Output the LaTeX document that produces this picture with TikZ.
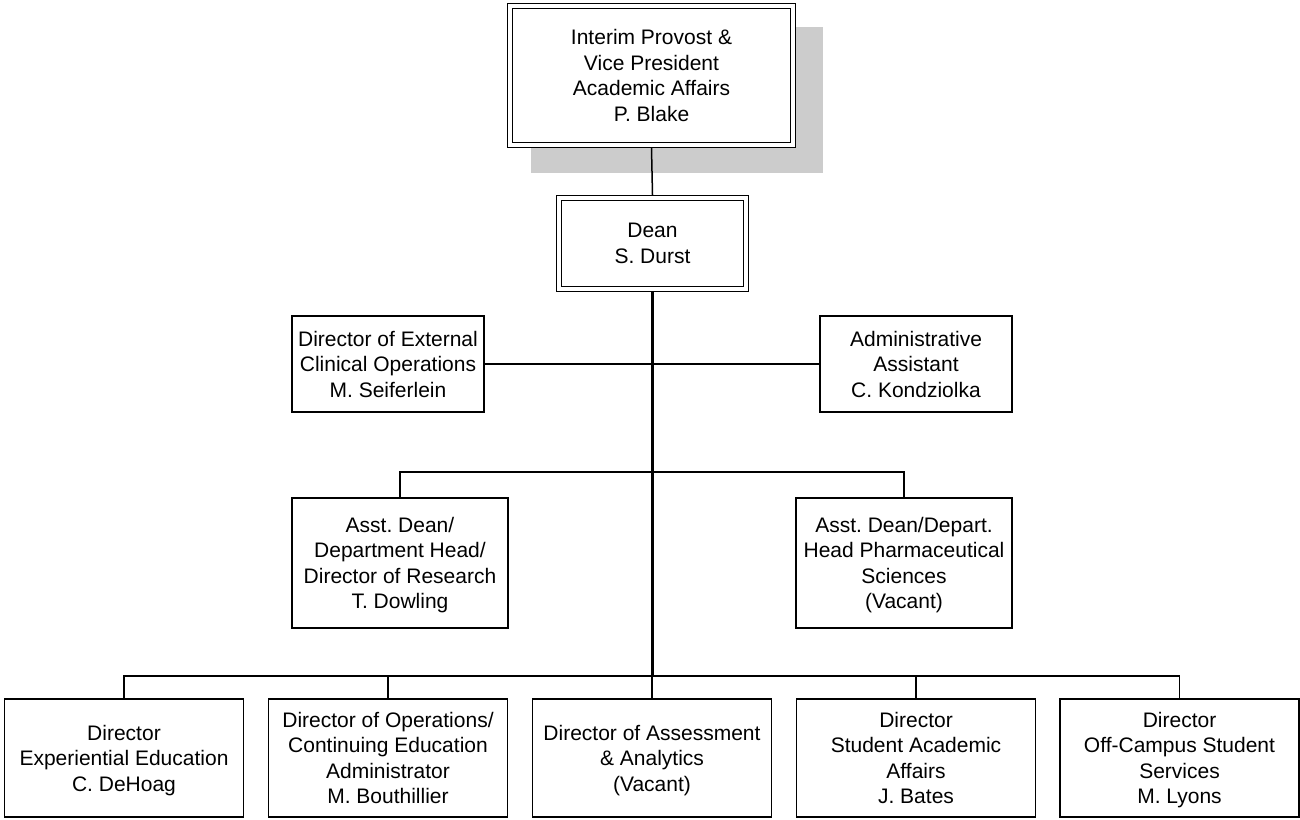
\documentclass[tikz,border=0pt]{standalone}
\usepackage{fontspec}
\setmainfont{Liberation Sans}
\usepackage{tikz}
\usetikzlibrary{positioning}
\definecolor{schatten}{rgb}{0.8,0.8,0.8}

\begin{document}
\begin{tikzpicture}[x=1pt,y=-1pt,line join=miter,
	box/.style={draw,fill=white,line width=1.3pt,inner sep=0pt,align=center,text depth=0pt,font=\fontsize{21}{25.5}\selectfont\frenchspacing},
	chef/.style={box,double,double distance=3.4pt,line width=1.3pt,outer sep=3pt},
	unten/.style={box,minimum width=239pt,minimum height=118pt},
	stamm/.style={line width=2.3pt}]
	\useasboundingbox (0,0) rectangle (1300,819);
	% Schatten der obersten Box
	\fill[schatten] (531,27) rectangle (823,173);
	\node[chef,minimum width=283pt,minimum height=139pt] (provost) at (651.5,75.5) {Interim Provost \&\\Vice President\\Academic Affairs\\P. Blake};
	\node[chef,minimum width=187pt,minimum height=91pt] (dean) at (652.5,243.5) {Dean\\S. Durst};
	\node[box,minimum width=192pt,minimum height=96pt] (extern) at (388,364) {Director of External\\Clinical Operations\\M. Seiferlein};
	\node[box,minimum width=192pt,minimum height=96pt] (assist) at (916,364) {Administrative\\Assistant\\C. Kondziolka};
	\node[box,minimum width=216pt,minimum height=130pt] (research) at (400,563) {Asst. Dean/\\Department Head/\\Director of Research\\T. Dowling};
	\node[box,minimum width=216pt,minimum height=130pt] (pharma) at (904,563) {Asst. Dean/Depart.\\Head Pharmaceutical\\Sciences\\(Vacant)};
	\node[unten] (d1) at (124,758) {Director\\Experiential Education\\C. DeHoag};
	\node[unten] (d2) at (388,758) {Director of Operations/\\Continuing Education\\Administrator\\M. Bouthillier};
	\node[unten] (d3) at (652,758) {Director of Assessment\\\& Analytics\\(Vacant)};
	\node[unten] (d4) at (916,758) {Director\\Student Academic\\Affairs\\J. Bates};
	\node[unten] (d5) at (1179.5,758) {Director\\Off-Campus Student\\Services\\M. Lyons};
	\coordinate (knoten2) at (652,472);
	\coordinate (knoten3) at (652,676);
	% Verbindungen
	\draw[line width=1.5pt] (provost.south) -- (dean.north);
	\draw[stamm] (dean.south) -- (dean.south |- knoten3);
	\draw[line width=1.5pt] (extern.east) -- (assist.west);
	\draw[line width=1.5pt] (research.north) |- (knoten2) -| (pharma.north);
	\draw[line width=1.5pt] (d1.north) |- (knoten3) -| (d5.north);
	\foreach \i in {2,3,4}
	\draw[line width=1.5pt] (d\i.north) -- (d\i.north |- knoten3);
\end{tikzpicture}
\end{document}
